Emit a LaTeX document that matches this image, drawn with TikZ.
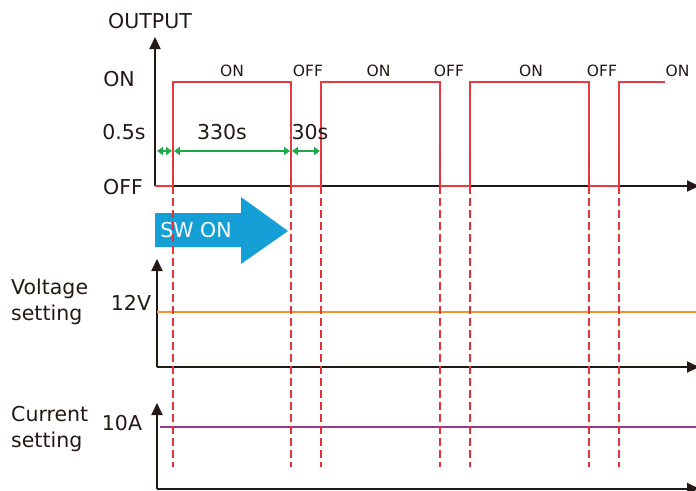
\documentclass[tikz,border=0pt]{standalone}
\usepackage{fontspec}
\setmainfont{DejaVu Sans}
\usetikzlibrary{arrows.meta}
\definecolor{axiscol}{HTML}{231815}
\definecolor{sigred}{HTML}{E83A40}
\definecolor{dashred}{HTML}{E8303A}
\definecolor{measgreen}{HTML}{1EA84B}
\definecolor{swblue}{HTML}{149FD6}
\definecolor{vorange}{HTML}{F0962E}
\definecolor{cpurple}{HTML}{923A8E}
\begin{document}
\begin{tikzpicture}[x=1pt,y=-1pt,
  axis/.style={draw=axiscol, line width=2pt, -{Triangle[length=12pt,width=11pt]}},
  sig/.style={draw=sigred, line width=1.6pt},
  guide/.style={draw=dashred, line width=2.3pt, dash pattern=on 8pt off 4pt},
  meas/.style={draw=measgreen, line width=2.2pt, {Triangle[length=6pt,width=8pt]}-{Triangle[length=6pt,width=8pt]}},
  lbl/.style={font=\fontsize{20.5}{26}\selectfont, inner sep=0pt, text=axiscol},
  small/.style={font=\fontsize{15.5}{18}\selectfont, inner sep=0pt, text=axiscol}]
\useasboundingbox (0,0) rectangle (696,490);
% axes
\coordinate (o1) at (155,186); \coordinate (t1) at (155,37); \coordinate (e1) at (699,186);
\coordinate (o2) at (157,367); \coordinate (t2) at (157,259); \coordinate (e2) at (699,367);
\coordinate (o3) at (157,488.5); \coordinate (t3) at (157,403); \coordinate (e3) at (699,488.5);
\draw[axis] (o1) -- (t1);
\draw[axis] (o1) -- (e1);
\draw[axis] (o2) -- (t2);
\draw[axis] (o2) -- (e2);
\draw[axis] (o3) -- (t3);
\draw[axis] (o3) -- (e3);
% signal
\draw[sig] (155,186) -- (173,186) -- (173,82) -- (291,82) -- (291,186) -- (321,186) -- (321,82)
  -- (440,82) -- (440,186) -- (470,186) -- (470,82) -- (589,82) -- (589,186) -- (619,186)
  -- (619,82) -- (665,82);
% setting lines
\coordinate (vs) at (157,312); \coordinate (ve) at (696,312);
\coordinate (cs) at (160,427); \coordinate (ce) at (696,427);
\draw[vorange, line width=2pt] (vs) -- (ve);
\draw[cpurple, line width=2pt] (cs) -- (ce);
% SW ON arrow
\fill[swblue] (155,213) -- (241,213) -- (241,197) -- (288,231) -- (241,264) -- (241,247) -- (155,247) -- cycle;
\node[lbl, text=white] (sw) at (196,230) {SW ON};
% guides
\foreach \i/\x in {1/173,2/291,3/321,4/440,5/470,6/589,7/619}{
  \coordinate (gt\i) at (\x,150);
  \coordinate (gb\i) at (\x,467);
  \draw[guide] (gt\i) -- (gb\i);
}
% measurements
\coordinate (m0) at (157,151); \coordinate (m1a) at (172,151); \coordinate (m1b) at (174,151);
\coordinate (m2a) at (290,151); \coordinate (m2b) at (292,151); \coordinate (m3) at (320,151);
\draw[meas] (m0) -- (m1a);
\draw[meas] (m1b) -- (m2a);
\draw[meas] (m2b) -- (m3);
% labels
\node[lbl] (out) at (150,21) {OUTPUT};
\node[lbl] (lon) at (119,79) {ON};
\node[lbl] (l05) at (124,132) {0.5s};
\node[lbl] (loff) at (123,187) {OFF};
\node[lbl] (l330) at (222,132) {330s};
\node[lbl] (l30) at (310,132) {30s};
\node[small] (s1) at (232,70.5) {ON};
\node[small] (s2) at (308,70.5) {OFF};
\node[small] (s3) at (378.5,70.5) {ON};
\node[small] (s4) at (449,70.5) {OFF};
\node[small] (s5) at (531,70.5) {ON};
\node[small] (s6) at (602,70.5) {OFF};
\node[small] (s7) at (677.5,70.5) {ON};
\node[lbl, align=left, anchor=north west] (volt) at (11,279) {Voltage\\setting};
\node[lbl] (v12) at (131,303) {12V};
\node[lbl, align=left, anchor=north west] (curr) at (11,406) {Current\\setting};
\node[lbl] (a10) at (122,423.5) {10A};
\end{tikzpicture}
\end{document}
